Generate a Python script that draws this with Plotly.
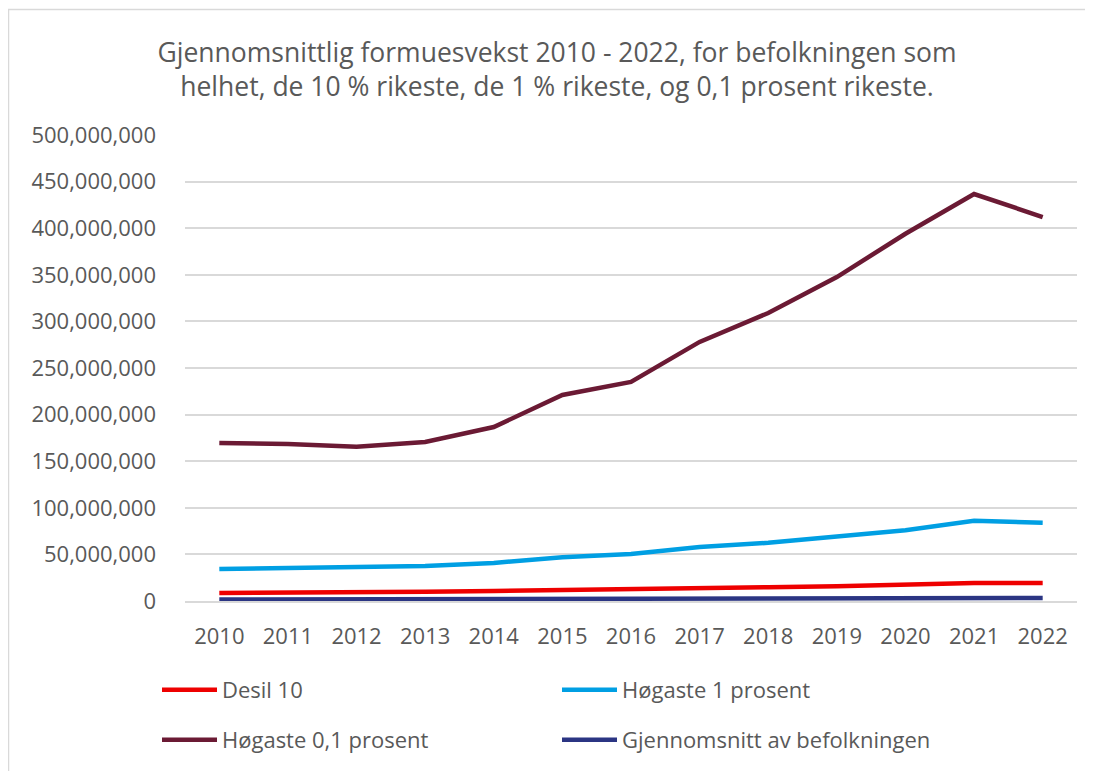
import plotly.graph_objects as go

years = ["2010", "2011", "2012", "2013", "2014", "2015", "2016",
         "2017", "2018", "2019", "2020", "2021", "2022"]

desil_10 = [8.6e6, 8.8e6, 9.3e6, 10.0e6, 10.8e6, 11.5e6, 12.8e6,
            14.0e6, 14.8e6, 15.8e6, 17.2e6, 19.3e6, 19.3e6]
hogaste_1 = [34.3e6, 35.0e6, 36.3e6, 37.5e6, 40.8e6, 47.0e6, 50.4e6,
             58.0e6, 62.5e6, 68.7e6, 76.0e6, 86.0e6, 84.0e6]
hogaste_01 = [169.5e6, 168.5e6, 165.5e6, 170.6e6, 186.7e6, 221.0e6, 235.0e6,
              278.0e6, 309.0e6, 347.6e6, 394.0e6, 436.7e6, 412.0e6]
gjennomsnitt = [1.5e6, 1.6e6, 1.7e6, 1.8e6, 1.9e6, 2.0e6, 2.1e6,
                2.3e6, 2.5e6, 2.6e6, 2.8e6, 3.3e6, 3.3e6]

series = [
    ("Desil 10", desil_10, "#EE0000", "legend"),
    ("Høgaste 1 prosent", hogaste_1, "#009FE3", "legend"),
    ("Høgaste 0,1 prosent", hogaste_01, "#6B1A34", "legend2"),
    ("Gjennomsnitt av befolkningen", gjennomsnitt, "#2B3583", "legend2"),
]

title_text = ("Gjennomsnittlig formuesvekst 2010 - 2022, for befolkningen som<br>"
              "helhet, de 10 % rikeste, de 1 % rikeste, og 0,1 prosent rikeste.")

fig = go.Figure()
for name, vals, color, lg in series:
    fig.add_trace(go.Scatter(
        x=years, y=vals, name=name, mode="lines",
        line=dict(color=color, width=4.5, shape="linear"),
        legend=lg,
    ))

FONT = "Open Sans"
GREY = "#595959"

OFF = 8  # page body margin in the browser
SW, SH = 1093, 771          # screen size
W, H = SW - OFF, SH - OFF   # figure size
# target plot area in screen pixels
PL, PR, PT, PB = 185, 1077, 135, 601
L, T = PL - OFF, PT - OFF
R = W - (PR - OFF)
B = H - (PB - OFF)
pw, ph = PR - PL, PB - PT

def sx(px):  # screen px -> paper x
    return (px - PL) / pw

def sy(py):  # screen px -> paper y
    return (PB - py) / ph

legend_common = dict(
    orientation="h",
    entrywidth=330, entrywidthmode="pixels",
    font=dict(family=FONT, size=22, color=GREY),
    bgcolor="rgba(0,0,0,0)",
    xanchor="left", yanchor="middle",
    itemwidth=55,
)

fig.update_layout(
    width=W, height=H,
    margin=dict(l=L, r=R, t=T, b=B, autoexpand=False),
    paper_bgcolor="white",
    plot_bgcolor="white",
    font=dict(family=FONT, color=GREY),
    title=dict(
        text=title_text,
        x=(557 - OFF) / W, xref="container", xanchor="center",
        y=1 - (62 - OFF) / H, yref="container", yanchor="middle",
        font=dict(family=FONT, size=26.5, color=GREY),
    ),
    showlegend=True,
    legend=dict(x=sx(157), y=sy(690), **legend_common),
    legend2=dict(x=sx(157), y=sy(740), **legend_common),
    xaxis=dict(
        type="category",
        range=[-0.5, len(years) - 0.5],
        showgrid=False,
        showline=True, linecolor="#d9d9d9", linewidth=1.5,
        ticks="", tickfont=dict(family=FONT, size=22, color=GREY),
        ticklabelstandoff=15,
    ),
    yaxis=dict(
        range=[0, 500e6],
        tickmode="linear", tick0=0, dtick=50e6,
        tickformat=",",
        showgrid=True, gridcolor="#d9d9d9", gridwidth=1.5,
        zeroline=False,
        showline=False,
        ticks="", tickfont=dict(family=FONT, size=22, color=GREY),
        ticklabelstandoff=28,
    ),
    shapes=[dict(
        type="rect", xref="paper", yref="paper",
        x0=sx(8.5), x1=sx(1100),
        y0=sy(790), y1=sy(9.5),
        line=dict(color="#d9d9d9", width=1.5),
        fillcolor="rgba(0,0,0,0)", layer="below",
    )],
)

fig.write_html("out.html")
